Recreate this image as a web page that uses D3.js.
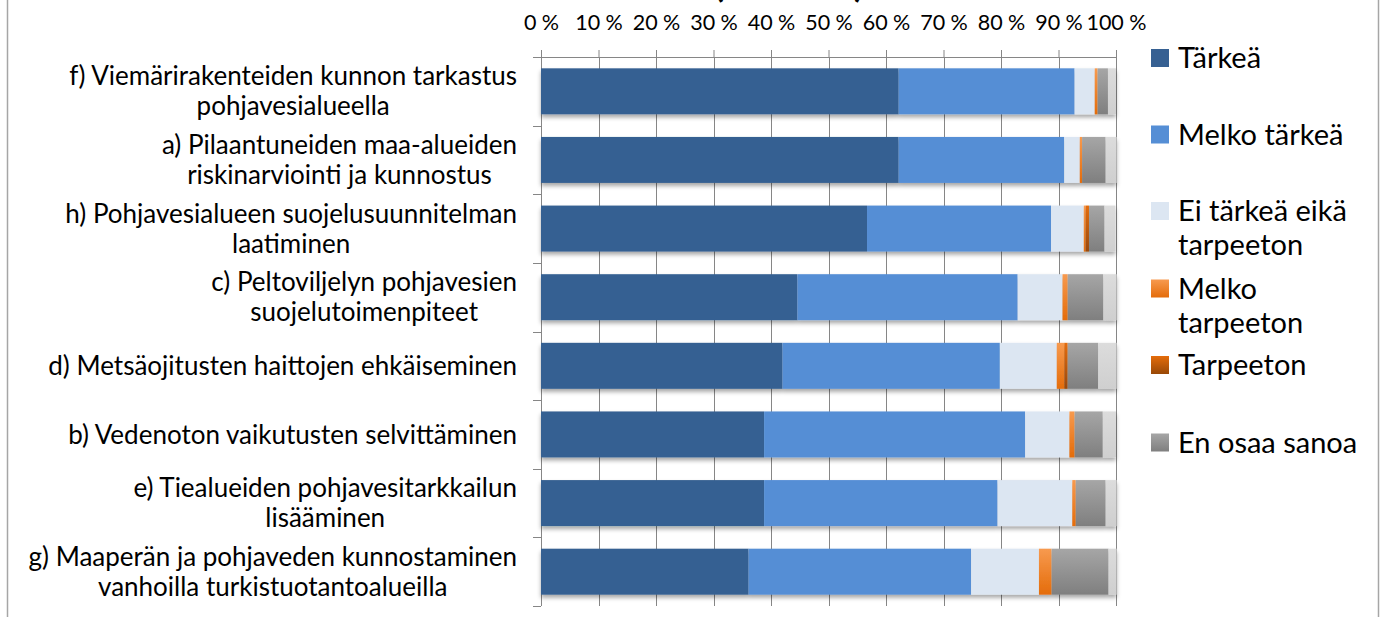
<!DOCTYPE html>
<html>
<head>
<meta charset="utf-8">
<script src="https://d3js.org/d3.v7.min.js"></script>
<style>
body { margin: 0; background: #fff; }
text { font-family: Lato, "Liberation Sans", sans-serif; fill: #000; }
</style>
</head>
<body>
<svg width="1383" height="617"></svg>
<script>
// categories top to bottom, each label split into its lines
var categories = ["f", "a", "h", "c", "d", "b", "e", "g"];
var categoryLines = [
  ["f) Viemärirakenteiden kunnon tarkastus", "pohjavesialueella"],
  ["a) Pilaantuneiden maa-alueiden", "riskinarviointi ja kunnostus"],
  ["h) Pohjavesialueen suojelusuunnitelman", "laatiminen"],
  ["c) Peltoviljelyn pohjavesien", "suojelutoimenpiteet"],
  ["d) Metsäojitusten haittojen ehkäiseminen"],
  ["b) Vedenoton vaikutusten selvittäminen"],
  ["e) Tiealueiden pohjavesitarkkailun", "lisääminen"],
  ["g) Maaperän ja pohjaveden kunnostaminen", "vanhoilla turkistuotantoalueilla"]
];
var seriesNames = ["Tärkeä", "Melko tärkeä", "Ei tärkeä eikä tarpeeton", "Melko tarpeeton", "Tarpeeton", "En osaa sanoa", "Tyhjä"];
var legendLines = [["Tärkeä"], ["Melko tärkeä"], ["Ei tärkeä eikä", "tarpeeton"], ["Melko", "tarpeeton"], ["Tarpeeton"], ["En osaa sanoa"]];

// percent values per series, same order as categories
var tarkea         = [62.2, 62.2, 56.7, 44.6, 42.0, 38.8, 38.8, 36.1];
var melkoTarkea    = [30.6, 28.8, 32.0, 38.3, 37.8, 45.4, 40.6, 38.7];
var eiTarkea       = [3.5, 2.7, 5.7, 7.8, 9.9, 7.7, 13.0, 11.8];
var melkoTarpeeton = [0.5, 0.4, 0.3, 0.9, 1.3, 0.9, 0.6, 2.2];
var tarpeeton      = [0, 0, 0.6, 0, 0.6, 0, 0, 0];
var enOsaa         = [1.8, 4.1, 2.7, 6.2, 5.3, 4.9, 5.2, 9.9];
var tyhja          = [1.4, 1.9, 1.9, 2.3, 3.2, 2.3, 1.9, 1.4];

var xTicks = [0, 10, 20, 30, 40, 50, 60, 70, 80, 90, 100];

var allSeries = [tarkea, melkoTarkea, eiTarkea, melkoTarpeeton, tarpeeton, enOsaa, tyhja];
var rows = categories.map(function(c, i) {
  var r = { cat: c };
  seriesNames.forEach(function(s, k) { r[s] = allSeries[k][i]; });
  return r;
});

var svg = d3.select("svg");
var defs = svg.append("defs");

// vertical gradients like the office chart style
function grad(id, c1, c2) {
  var g = defs.append("linearGradient").attr("id", id)
    .attr("x1", 0).attr("y1", 0).attr("x2", 0).attr("y2", 1);
  g.append("stop").attr("offset", "0%").attr("stop-color", c1);
  g.append("stop").attr("offset", "100%").attr("stop-color", c2);
}
grad("gOrange", "#f79a4f", "#e46c0a");
grad("gDark", "#e46c0a", "#984807");
grad("gGray", "#a6a6a6", "#7f7f7f");
grad("gLight", "#dcdcdc", "#cfcfcf");

var shadow = defs.append("filter").attr("id", "shadow")
  .attr("x", "-5%").attr("y", "-20%").attr("width", "110%").attr("height", "150%");
shadow.append("feDropShadow").attr("dx", 0).attr("dy", 3).attr("stdDeviation", 2)
  .attr("flood-color", "#000").attr("flood-opacity", 0.35);

var fills = ["#366092", "#558ed5", "#dce6f2", "url(#gOrange)", "url(#gDark)", "url(#gGray)", "url(#gLight)"];

var plotL = 541, plotR = 1116, plotT = 57, plotB = 606;
var x = d3.scaleLinear().domain([0, 100]).range([plotL, plotR]);
var y = d3.scaleBand().domain(categories).range([plotT, plotB]).paddingInner(0.33).paddingOuter(0.165);
var yBound = d3.scaleLinear().domain([0, categories.length]).range([plotT, plotB]);

// outer frame
svg.append("line").attr("x1", 7.5).attr("x2", 7.5).attr("y1", 0).attr("y2", 617)
  .attr("stroke", "#a6a6a6").attr("stroke-width", 1.5);
svg.append("line").attr("x1", 1378.5).attr("x2", 1378.5).attr("y1", 0).attr("y2", 617)
  .attr("stroke", "#a6a6a6").attr("stroke-width", 1.5);

// clipped title, only the bottom of the parentheses show
svg.append("text").text("(osuus %)")
  .attr("x", 789).attr("y", -3)
  .attr("text-anchor", "middle")
  .style("font-size", "36px").style("font-weight", "bold");

// gridlines
svg.append("g").selectAll("line").data(xTicks.slice(1)).enter().append("line")
  .attr("x1", function(d) { return Math.round(x(d)) + 0.5; })
  .attr("x2", function(d) { return Math.round(x(d)) + 0.5; })
  .attr("y1", plotT).attr("y2", plotB)
  .attr("stroke", "#868686").attr("stroke-width", 1);

// top axis
var xAxis = d3.axisTop(x).tickValues(xTicks).tickSize(7).tickPadding(20)
  .tickFormat(function(d) { return d + " %"; });
var gx = svg.append("g").attr("transform", "translate(0," + plotT + ")").call(xAxis);
gx.select(".domain").attr("stroke", "#868686");
gx.selectAll(".tick line").attr("stroke", "#868686");
gx.selectAll(".tick text").style("font-size", "21.5px").style("font-family", "Lato");

// left axis
svg.append("line").attr("x1", plotL + 0.5).attr("x2", plotL + 0.5).attr("y1", plotT).attr("y2", plotB)
  .attr("stroke", "#868686");
svg.append("g").selectAll("line").data(d3.range(categories.length + 1)).enter().append("line")
  .attr("x1", plotL - 8).attr("x2", plotL)
  .attr("y1", function(d) { return Math.round(yBound(d)) + 0.5; })
  .attr("y2", function(d) { return Math.round(yBound(d)) + 0.5; })
  .attr("stroke", "#868686");

// stacked bars
var stacked = d3.stack().keys(seriesNames)(rows);
var barG = svg.append("g");
rows.forEach(function(r, i) {
  var g = barG.append("g").attr("filter", "url(#shadow)");
  stacked.forEach(function(layer, k) {
    var d = layer[i];
    if (d[1] - d[0] <= 0) return;
    g.append("rect")
      .attr("x", x(d[0]))
      .attr("width", x(d[1]) - x(d[0]))
      .attr("y", y(r.cat))
      .attr("height", y.bandwidth())
      .attr("fill", fills[k]);
  });
});

// category labels, block right-aligned, lines centered within block
var labelRight = 517;
var lineH = 30;
categoryLines.forEach(function(lines, i) {
  var cy = y(categories[i]) + y.bandwidth() / 2;
  var t = svg.append("text").style("font-size", "26px").attr("text-anchor", "middle");
  var spans = lines.map(function(l, j) {
    return t.append("tspan").text(l)
      .attr("y", cy + (j - (lines.length - 1) / 2) * lineH)
      .attr("dy", "0.35em");
  });
  var maxW = d3.max(spans, function(s) { return s.node().getComputedTextLength(); });
  spans.forEach(function(s) { s.attr("x", labelRight - maxW / 2); });
});

// legend
var legY = [58, 134.5, 211, 288.5, 365, 442.5];
legendLines.forEach(function(lines, k) {
  svg.append("rect").attr("x", 1151).attr("y", legY[k] - 9).attr("width", 18).attr("height", 18)
    .attr("fill", fills[k]);
  var t = svg.append("text").style("font-size", "29px");
  lines.forEach(function(l, j) {
    t.append("tspan").text(l).attr("x", 1178).attr("y", legY[k] + j * 34).attr("dy", "0.35em");
  });
});
</script>
</body>
</html>
